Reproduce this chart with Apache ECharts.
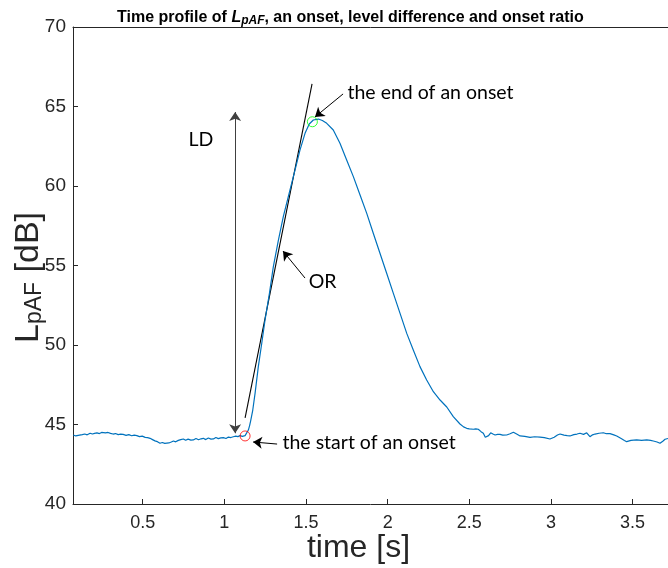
<!DOCTYPE html>
<html>
<head>
<meta charset="utf-8">
<script src="https://cdn.jsdelivr.net/npm/echarts/dist/echarts.min.js"></script>
<style>
html,body{margin:0;padding:0;background:#fff;}
#chart{width:668px;height:568px;}
</style>
</head>
<body>
<div id="chart"></div>
<script>
// ---- data ----
var timeS = [0.075,0.090,0.105,0.116,0.130,0.145,0.160,0.178,0.192,0.205,0.220,0.235,0.248,0.259,0.272,0.288,0.303,0.318,0.333,0.350,0.365,0.380,0.398,0.415,0.432,0.448,0.464,0.480,0.497,0.515,0.530,0.545,0.560,0.575,0.590,0.606,0.620,0.635,0.647,0.660,0.675,0.688,0.702,0.718,0.733,0.749,0.763,0.778,0.795,0.810,0.826,0.842,0.857,0.871,0.886,0.902,0.918,0.933,0.948,0.963,0.978,0.994,1.010,1.025,1.040,1.055,1.070,1.083,1.096,1.110,1.127,
1.138,1.147,1.155,1.162,1.174,1.188,1.208,1.229,1.249,1.276,1.300,1.331,1.361,1.402,1.433,1.463,1.494,1.520,1.545,1.576,1.600,1.627,1.667,1.708,1.749,1.790,1.831,1.872,1.912,1.953,1.994,2.035,2.076,2.117,2.157,2.198,2.239,2.280,2.321,2.362,2.402,2.443,2.465,2.484,2.500,2.525,2.540,2.555,2.572,2.586,2.598,2.607,2.618,2.631,2.645,2.658,2.673,2.688,2.705,2.729,2.750,2.770,2.790,2.811,2.840,2.872,2.900,2.933,2.960,2.994,3.020,3.040,3.056,3.080,3.100,3.117,3.140,3.160,3.178,3.200,3.219,3.239,3.255,3.270,3.295,3.321,3.340,3.362,3.385,3.403,3.430,3.450,3.464,3.490,3.525,3.555,3.587,3.610,3.627,3.650,3.668,3.685,3.699,3.717];
var levelDb = [44.34,44.28,44.32,44.30,44.36,44.40,44.35,44.45,44.40,44.44,44.47,44.43,44.50,44.55,44.47,44.50,44.44,44.40,44.43,44.36,44.39,44.38,44.32,44.36,44.29,44.33,44.30,44.24,44.27,44.19,44.17,44.13,44.05,43.97,43.92,43.82,43.87,43.81,43.76,43.84,43.90,43.96,43.91,44.00,44.05,44.09,44.01,44.08,44.02,44.03,44.12,44.04,44.10,44.13,44.05,44.15,44.08,44.09,44.18,44.11,44.16,44.17,44.12,44.21,44.18,44.23,44.27,44.24,44.30,44.25,44.30,
44.40,44.65,44.95,45.28,45.91,46.96,48.64,50.11,51.57,53.25,54.93,56.60,58.07,59.75,61.01,62.26,63.31,63.90,64.15,64.21,64.12,63.94,63.52,62.69,61.64,60.59,59.43,58.28,57.03,55.77,54.51,53.25,51.99,50.73,49.69,48.64,47.80,47.06,46.54,46.10,45.49,45.03,44.85,44.76,44.72,44.70,44.73,44.70,44.55,44.45,44.20,44.09,44.30,44.48,44.40,44.34,44.38,44.38,44.33,44.34,44.42,44.51,44.40,44.28,44.25,44.19,44.23,44.21,44.17,44.09,44.20,44.34,44.40,44.33,44.30,44.28,44.36,44.40,44.45,44.38,44.48,44.23,44.35,44.40,44.45,44.48,44.42,44.43,44.35,44.28,44.12,44.00,43.92,44.00,44.03,44.00,44.03,44.00,43.96,43.90,43.82,43.95,44.07,44.12];

var tangentT = [1.127, 1.537];
var tangentV = [45.41, 66.42];

var onsetT = [1.127, 1.539];
var onsetV = [44.28, 64.04];

var xTicks = [0.5, 1, 1.5, 2, 2.5, 3, 3.5];
var yTicks = [40, 45, 50, 55, 60, 65, 70];

// annotation anchors (data coordinates)
var ldArrowT = 1.066, ldArrowV = [44.45, 64.65];
var endArrow = [[1.727, 65.79], [1.555, 64.34]];
var orArrow = [[1.494, 54.21], [1.359, 55.91]];
var startArrow = [[1.323, 43.77], [1.176, 43.90]];
var textItems = [
  {t: 1.751, v: 65.85, text: 'the end of an onset', pos: 'right'},
  {t: 1.513, v: 53.96, text: 'OR', pos: 'right'},
  {t: 1.353, v: 43.84, text: 'the start of an onset', pos: 'right'},
  {t: 0.857, v: 62.89, text: 'LD', pos: 'inside'}
];

// ---- build chart ----
var curve = timeS.map(function (t, i) { return [t, levelDb[i]]; });
var tangent = tangentT.map(function (t, i) { return [t, tangentV[i]]; });
var axisColor = '#262626';
var annFont = 'Lato';

var chart = echarts.init(document.getElementById('chart'), null, {renderer: 'canvas'});
chart.setOption({
  animation: false,
  backgroundColor: '#ffffff',
  title: {
    text: '{n|Time profile of }{i|L}{s|pAF}{n|, an onset, level difference and onset ratio}',
    left: 112, top: 3,
    textStyle: {
      rich: {
        n: {fontFamily: 'Liberation Sans', fontWeight: 'bold', fontSize: 16, color: '#000'},
        i: {fontFamily: 'Liberation Sans', fontWeight: 'bold', fontStyle: 'italic', fontSize: 16, color: '#000'},
        s: {fontFamily: 'Liberation Sans', fontWeight: 'bold', fontStyle: 'italic', fontSize: 12, color: '#000', padding: [7, 0, 0, 0]}
      }
    }
  },
  grid: {left: 73, top: 27, right: 0, bottom: 64, containLabel: false, outerBoundsMode: 'none'},
  xAxis: [{
    type: 'value', min: 0.073, max: 3.717,
    name: 'time [s]', nameLocation: 'middle', nameGap: 28, nameMoveOverlap: false,
    nameTextStyle: {fontFamily: 'Liberation Sans', fontSize: 32, color: axisColor, padding: [0, 24, 0, 0]},
    axisLine: {show: true, onZero: false, lineStyle: {color: axisColor, width: 1}},
    axisTick: {show: true, inside: true, length: 5, customValues: xTicks, lineStyle: {color: axisColor}},
    axisLabel: {customValues: xTicks, fontFamily: 'Liberation Sans', fontSize: 18, color: axisColor, margin: 10,
      formatter: function (v) { return String(v); }},
    splitLine: {show: false}
  }, {
    type: 'value', position: 'top', min: 0.073, max: 3.717,
    axisLine: {show: true, onZero: false, lineStyle: {color: axisColor, width: 1}},
    axisTick: {show: false}, axisLabel: {show: false}, splitLine: {show: false}
  }],
  yAxis: {
    type: 'value', min: 40, max: 70, interval: 5,
    name: '{a|L}{b|pAF}{a| [dB]}', nameLocation: 'middle', nameGap: 27, nameRotate: 90, nameMoveOverlap: false,
    nameTextStyle: {
      color: axisColor, padding: [0, 24, 0, 0],
      rich: {
        a: {fontFamily: 'Liberation Sans', fontSize: 34, color: axisColor},
        b: {fontFamily: 'Liberation Sans', fontSize: 23, color: axisColor, padding: [12, 0, 0, 0]}
      }
    },
    axisLine: {show: true, lineStyle: {color: axisColor, width: 1}},
    axisTick: {show: true, inside: true, length: 5, lineStyle: {color: axisColor}},
    axisLabel: {fontFamily: 'Liberation Sans', fontSize: 19, color: axisColor, margin: 7},
    splitLine: {show: false}
  },
  series: [{
    type: 'line', data: curve, showSymbol: false, symbol: 'none',
    lineStyle: {color: '#0072BD', width: 1.2}, itemStyle: {color: '#0072BD'},
    z: 3, silent: true
  }, {
    type: 'line', data: tangent, showSymbol: false, symbol: 'none',
    lineStyle: {color: '#000', width: 1.1}, z: 2, silent: true,
    markLine: {
      silent: true, symbol: ['none', 'arrow'], symbolSize: 9,
      label: {show: false},
      lineStyle: {color: '#000', width: 1, type: 'solid'},
      emphasis: {disabled: true},
      data: [
        [{coord: [ldArrowT, ldArrowV[0]], symbol: 'arrow', lineStyle: {color: '#404040'}}, {coord: [ldArrowT, ldArrowV[1]], symbol: 'arrow'}],
        [{coord: endArrow[0], symbol: 'none'}, {coord: endArrow[1], symbol: 'arrow'}],
        [{coord: orArrow[0], symbol: 'none'}, {coord: orArrow[1], symbol: 'arrow'}],
        [{coord: startArrow[0], symbol: 'none'}, {coord: startArrow[1], symbol: 'arrow'}]
      ]
    },
    markPoint: {
      silent: true, symbol: 'circle', symbolSize: 1,
      itemStyle: {color: 'rgba(0,0,0,0)'},
      data: textItems.map(function (d) {
        return {coord: [d.t, d.v], value: d.text,
          label: {show: true, position: d.pos, distance: 0, formatter: d.text,
            fontFamily: annFont, fontSize: 19.5, color: '#000'}};
      })
    }
  }, {
    type: 'scatter',
    data: [
      {value: [onsetT[0], onsetV[0]], itemStyle: {borderColor: '#ff0000'}},
      {value: [onsetT[1], onsetV[1]], itemStyle: {borderColor: '#00ff00'}}
    ],
    symbol: 'circle', symbolSize: 10,
    itemStyle: {color: 'rgba(0,0,0,0)', borderWidth: 1},
    z: 4, silent: true
  }]
});
</script>
</body>
</html>
